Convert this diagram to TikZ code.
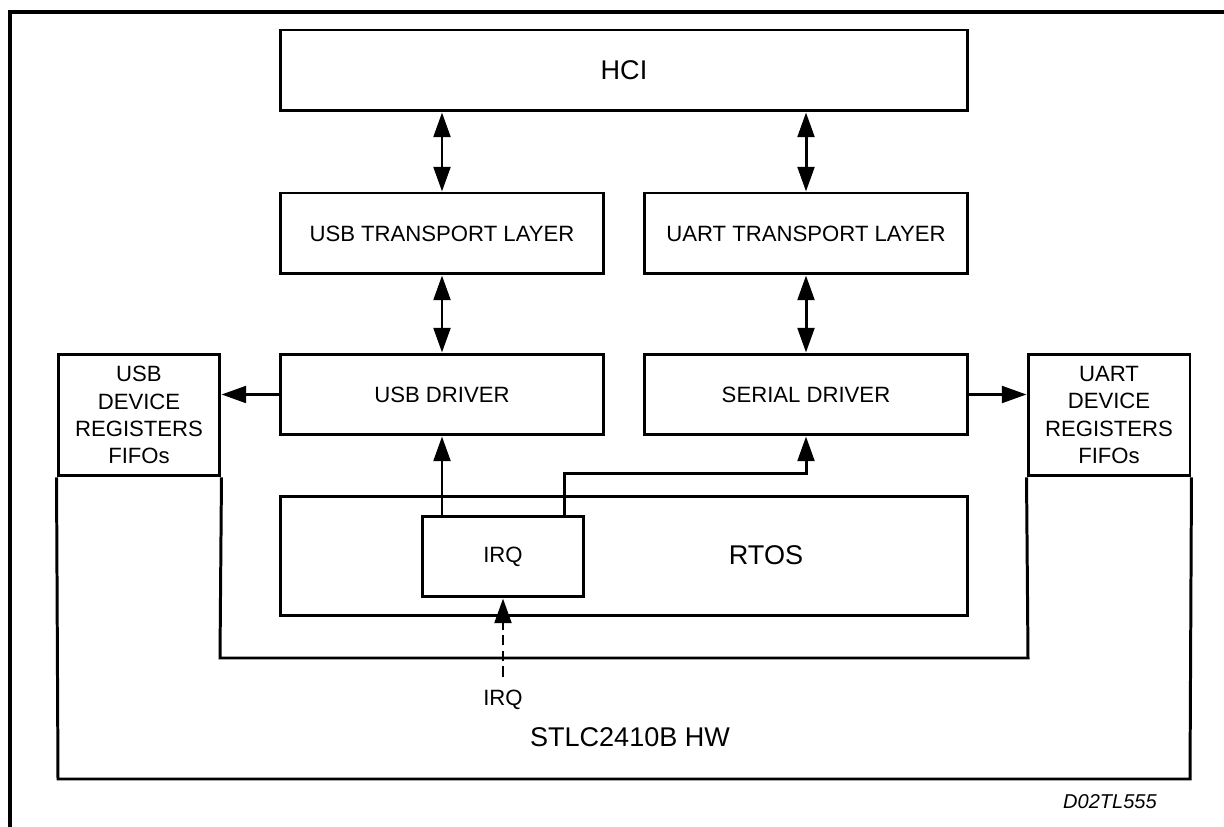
\documentclass[tikz,border=0pt]{standalone}
\usepackage{fontspec}
\setmainfont{Liberation Sans}
\usetikzlibrary{arrows.meta,positioning}

\begin{document}
\begin{tikzpicture}[x=0.02cm,y=-0.02cm,
        blk/.style={draw,line width=1.7pt,minimum height=1.62cm,inner sep=0pt,align=center,
            font=\fontsize{12.6}{15.5}\selectfont},
        big/.style={font=\fontsize{15.4}{18}\selectfont},
        small/.style={font=\fontsize{12.6}{15.5}\selectfont},
        arr/.style={line width=1.7pt,-{Triangle[length=14pt,width=9.5pt]}},
        darr/.style={line width=1.7pt,{Triangle[length=14pt,width=9.5pt]}-{Triangle[length=14pt,width=9.5pt]}}]
        \useasboundingbox (0,0) rectangle (1224,827);

        % Outer frame (open at right and bottom)
        \draw[line width=2pt] (10,827) -- (10,12) -- (1224,12);

        % Software layers
        \node[blk,big,minimum width=13.76cm] (hci) at (624,70.5) {HCI};
        \node[blk,minimum width=6.48cm] (usbtl) at (442,233.5) {USB TRANSPORT LAYER};
        \node[blk,minimum width=6.48cm] (uarttl) at (806,233.5) {UART TRANSPORT LAYER};
        \node[blk,minimum width=6.48cm] (usbdrv) at (442,394.5) {USB DRIVER};
        \node[blk,minimum width=6.48cm] (serdrv) at (806,394.5) {SERIAL DRIVER};

        % RTOS with IRQ handler
        \node[blk,minimum width=13.76cm,minimum height=2.38cm] (rtos) at (624,556) {};
        \node[big] (rtoslbl) at (766,555) {RTOS};
        \node[blk,minimum width=3.24cm] (irq) at (503,556.5) {IRQ};

        % Device registers
        \node[blk,minimum width=3.24cm,minimum height=2.44cm] (usbdev) at (139,415) {USB\\DEVICE\\REGISTERS\\FIFOs};
        \node[blk,minimum width=3.24cm,minimum height=2.44cm] (uartdev) at (1109,415) {UART\\DEVICE\\REGISTERS\\FIFOs};

        % Hardware outline
        \draw[line width=1.7pt] (usbdev.south west) -- (58,779) -- (1190,779) -- (uartdev.south east);
        \draw[line width=1.7pt] (usbdev.south east) -- (220,658) -- (1028,658) -- (uartdev.south west);

        % Labels
        \node[small] (irqin) at (503,700) {IRQ};
        \node[big] (hwlbl) at (630,737) {STLC2410B HW};
        \node[font=\fontsize{11.4}{14}\selectfont\itshape] (figid) at (1110,802) {D02TL555};

        % Connections between layers
        \draw[darr] (hci.south -| usbtl.north) -- (usbtl.north);
        \draw[darr] (hci.south -| uarttl.north) -- (uarttl.north);
        \draw[darr] (usbtl) -- (usbdrv);
        \draw[darr] (uarttl) -- (serdrv);
        \draw[arr] (usbdrv.west) -- (usbdrv.west -| usbdev.east);
        \draw[arr] (serdrv.east) -- (serdrv.east -| uartdev.west);

        % Interrupt paths
        \draw[arr] (irq.north -| usbdrv.south) -- (usbdrv.south);
        \draw[arr] ([xshift=-0.42cm]irq.north east) -- ++(0,0.82cm) -| (serdrv.south);
        \draw[arr,dash pattern=on 6pt off 3pt] ([yshift=0.46cm]irqin.center) -- (irq.south);

    \end{tikzpicture}
\end{document}
